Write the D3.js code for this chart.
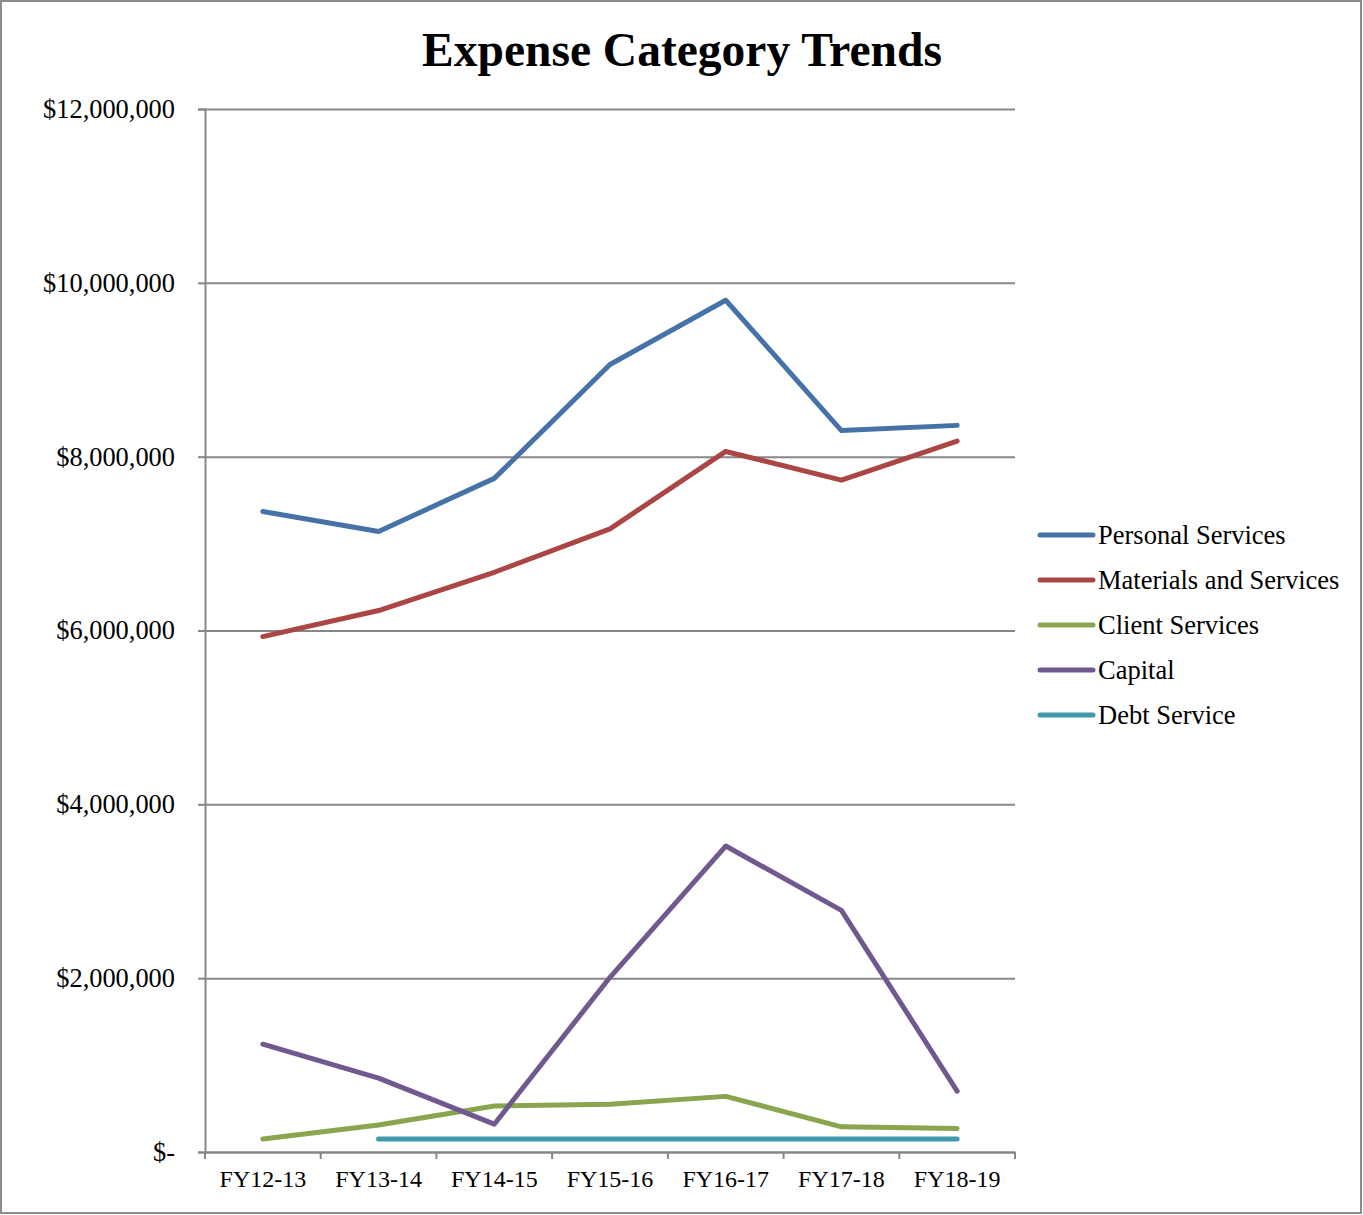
<!DOCTYPE html>
<html>
<head>
<meta charset="utf-8">
<script src="https://cdn.jsdelivr.net/npm/d3@7/dist/d3.min.js"></script>
<style>
  html, body { margin: 0; padding: 0; background: #fff; }
  svg { display: block; }
  text { font-family: "Liberation Serif", "Times New Roman", serif; fill: #000; }
</style>
</head>
<body>
<svg id="chart" width="1363" height="1215"></svg>
<script>
const categories = ["FY12-13", "FY13-14", "FY14-15", "FY15-16", "FY16-17", "FY17-18", "FY18-19"];
const personalServices = [7370000, 7140000, 7750000, 9060000, 9800000, 8300000, 8360000];
const materialsServices = [5930000, 6230000, 6670000, 7170000, 8060000, 7730000, 8180000];
const clientServices = [150000, 310000, 530000, 550000, 640000, 290000, 270000];
const capital = [1240000, 850000, 320000, 2010000, 3520000, 2780000, 700000];
const debtService = [null, 150000, 150000, 150000, 150000, 150000, 150000];
const seriesNames = ["Personal Services", "Materials and Services", "Client Services", "Capital", "Debt Service"];
const seriesColors = ["#4572A7", "#AA4643", "#89A54E", "#71588F", "#4198AF"];
const yTicks = [0, 2000000, 4000000, 6000000, 8000000, 10000000, 12000000];

(function () {
const series = [personalServices, materialsServices, clientServices, capital, debtService]
  .map((vals, i) => ({ name: seriesNames[i], color: seriesColors[i], values: vals }));

const svg = d3.select("#chart");
const W = 1363, H = 1215;
const pLeft = 205, pRight = 1015, pTop = 109, pBottom = 1152;
const gridColor = "#878787";

// outer border
svg.append("rect").attr("x", 1).attr("y", 1).attr("width", W - 3).attr("height", H - 3)
  .attr("fill", "#fff").attr("stroke", "#8c8c8c").attr("stroke-width", 2);

// title
svg.append("text").attr("x", 682).attr("y", 66).attr("text-anchor", "middle")
  .attr("font-size", 47.5).attr("font-weight", "bold").text("Expense Category Trends");

const x = d3.scaleBand().domain(categories).range([pLeft, pRight]).padding(0);
const y = d3.scaleLinear().domain([0, 12000000]).range([pBottom, pTop]);
const cx = c => x(c) + x.bandwidth() / 2;

// gridlines
const grid = svg.append("g").attr("transform", `translate(${pLeft},0)`)
  .call(d3.axisLeft(y).tickValues(yTicks).tickSize(-(pRight - pLeft)).tickFormat(""));
grid.select(".domain").remove();
grid.selectAll("line").attr("stroke", gridColor).attr("stroke-width", 2);

// y axis
const fmt = d => d === 0 ? "$-" : "$" + d3.format(",")(d);
const yAxis = svg.append("g").attr("transform", `translate(${pLeft},0)`)
  .call(d3.axisLeft(y).tickValues(yTicks).tickSize(7).tickPadding(23).tickFormat(fmt));
yAxis.select(".domain").attr("stroke", gridColor).attr("stroke-width", 2);
yAxis.selectAll(".tick line").attr("stroke", gridColor).attr("stroke-width", 2);
yAxis.selectAll("text").attr("font-size", 26.4).attr("font-family", "Liberation Serif").attr("fill", "#000");

// x axis line + boundary ticks
const xAxis = svg.append("g").attr("transform", `translate(0,${pBottom})`)
  .call(d3.axisBottom(x).tickSize(0).tickPadding(18));
xAxis.select(".domain").attr("stroke", gridColor).attr("stroke-width", 2);
xAxis.selectAll("text").attr("font-size", 24).attr("font-family", "Liberation Serif").attr("fill", "#000");
const bounds = categories.map(c => x(c)).concat([x.range()[1]]);
svg.append("g").selectAll("line").data(bounds).join("line")
  .attr("x1", d => d).attr("x2", d => d).attr("y1", pBottom).attr("y2", pBottom + 7)
  .attr("stroke", gridColor).attr("stroke-width", 2);

// lines
const line = d3.line()
  .defined(d => d.v !== null)
  .x(d => cx(d.c)).y(d => y(d.v));
svg.append("g").selectAll("path").data(series).join("path")
  .attr("d", s => line(s.values.map((v, i) => ({ c: categories[i], v }))))
  .attr("fill", "none").attr("stroke", s => s.color).attr("stroke-width", 5)
  .attr("stroke-linecap", "round").attr("stroke-linejoin", "round");

// legend
const leg = svg.append("g").selectAll("g").data(series).join("g")
  .attr("transform", (s, i) => `translate(1040,${535 + i * 45})`);
leg.append("line").attr("x1", 0).attr("x2", 53).attr("y1", 0).attr("y2", 0)
  .attr("stroke", s => s.color).attr("stroke-width", 5).attr("stroke-linecap", "round");
leg.append("text").attr("x", 58).attr("y", 9).attr("font-size", 26.5).text(s => s.name);
})();
</script>
</body>
</html>
